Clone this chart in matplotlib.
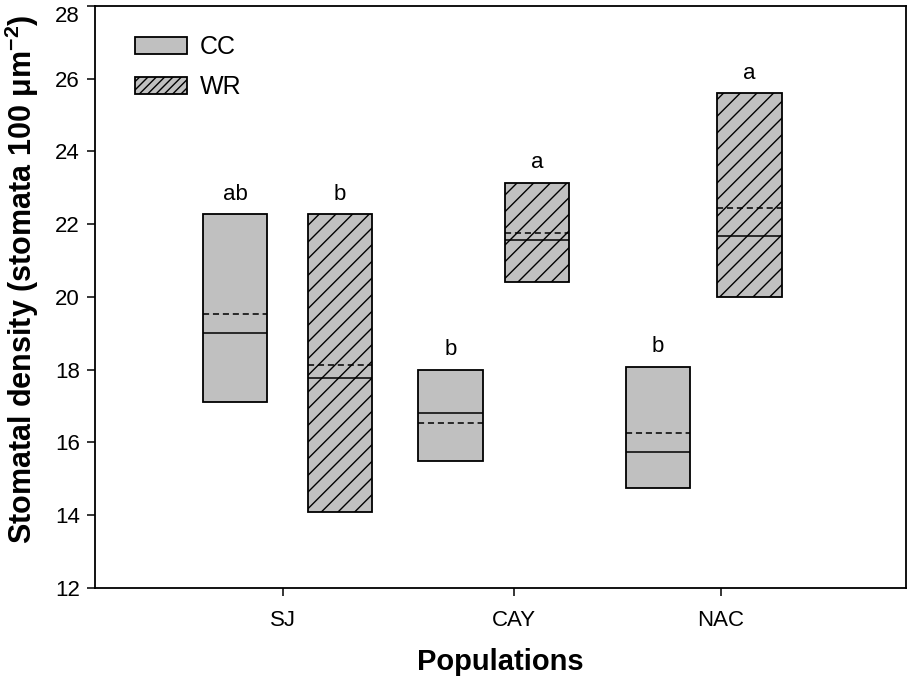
import matplotlib
matplotlib.use("Agg")
import matplotlib.pyplot as plt
from matplotlib.patches import Patch

plt.rcParams['font.family'] = ['Liberation Sans', 'DejaVu Sans']
plt.rcParams['hatch.linewidth'] = 1.0

# data
populations = ['SJ', 'CAY', 'NAC']
pop_ticks = [1.88, 4.19, 6.26]

cc_x = [1.40, 3.555, 5.63]
cc_top = [22.27, 18.00, 18.08]
cc_bottom = [17.12, 15.48, 14.74]
cc_median = [19.00, 16.82, 15.75]
cc_mean = [19.53, 16.52, 16.27]
cc_letters = ['ab', 'b', 'b']

wr_x = [2.45, 4.42, 6.545]
wr_top = [22.27, 23.14, 25.59]
wr_bottom = [14.08, 20.41, 20.00]
wr_median = [17.76, 21.56, 21.67]
wr_mean = [18.14, 21.76, 22.44]
wr_letters = ['b', 'a', 'a']

box_w = 0.645
fill = '#c0c0c0'

fig = plt.figure(figsize=(9.09, 6.77), dpi=100)
ax = fig.add_axes([0.1045, 0.1315, 0.8922, 0.860])


def draw_group(xs, tops, bottoms, medians, means, letters, hatch):
    heights = [t - b for t, b in zip(tops, bottoms)]
    ax.bar(xs, heights, bottom=bottoms, width=box_w, color=fill,
           edgecolor='black', linewidth=1.3, hatch=hatch, zorder=2)
    for x, med, mn, t, lab in zip(xs, medians, means, tops, letters):
        ax.hlines(med, x - box_w / 2, x + box_w / 2, colors='black',
                  linewidth=1.1, zorder=3)
        ax.hlines(mn, x - box_w / 2, x + box_w / 2, colors='black',
                  linewidth=1.1, linestyles=(0, (4, 2.5)), zorder=3)
        ax.annotate(lab, (x, t), xytext=(0, 7), textcoords='offset points',
                    ha='center', va='bottom', fontsize=16)


draw_group(cc_x, cc_top, cc_bottom, cc_median, cc_mean, cc_letters, None)
draw_group(wr_x, wr_top, wr_bottom, wr_median, wr_mean, wr_letters, '//')

ax.set_xlim(0, 8.11)
ax.set_ylim(12, 28)
ax.set_yticks(range(12, 29, 2))
ax.set_xticks(pop_ticks)
ax.set_xticklabels(populations)
ax.tick_params(axis='both', direction='out', length=6, width=1.1,
               labelsize=16, pad=5)
ax.tick_params(axis='x', pad=10)
# keep the top tick label inside the picture
ax.get_yticklabels()[-1].set_verticalalignment('top')
for s in ax.spines.values():
    s.set_linewidth(1.3)

ax.set_ylabel('Stomatal density (stomata 100 $\\mathregular{\\mu m^{-2}}$)',
              fontsize=22, fontweight='bold')
ax.yaxis.set_label_coords(-0.067, 0.53)
ax.set_xlabel('Populations', fontsize=21, fontweight='bold', labelpad=12)

handles = [Patch(facecolor=fill, edgecolor='black', linewidth=1.3, label='CC'),
           Patch(facecolor=fill, edgecolor='black', linewidth=1.3, hatch='////',
                 label='WR')]
ax.legend(handles=handles, loc='upper left', bbox_to_anchor=(0.021, 0.988),
          frameon=False, fontsize=18, handlelength=2.1, handleheight=0.7,
          labelspacing=0.65, handletextpad=0.5)

fig.savefig('out.png', dpi=100)
